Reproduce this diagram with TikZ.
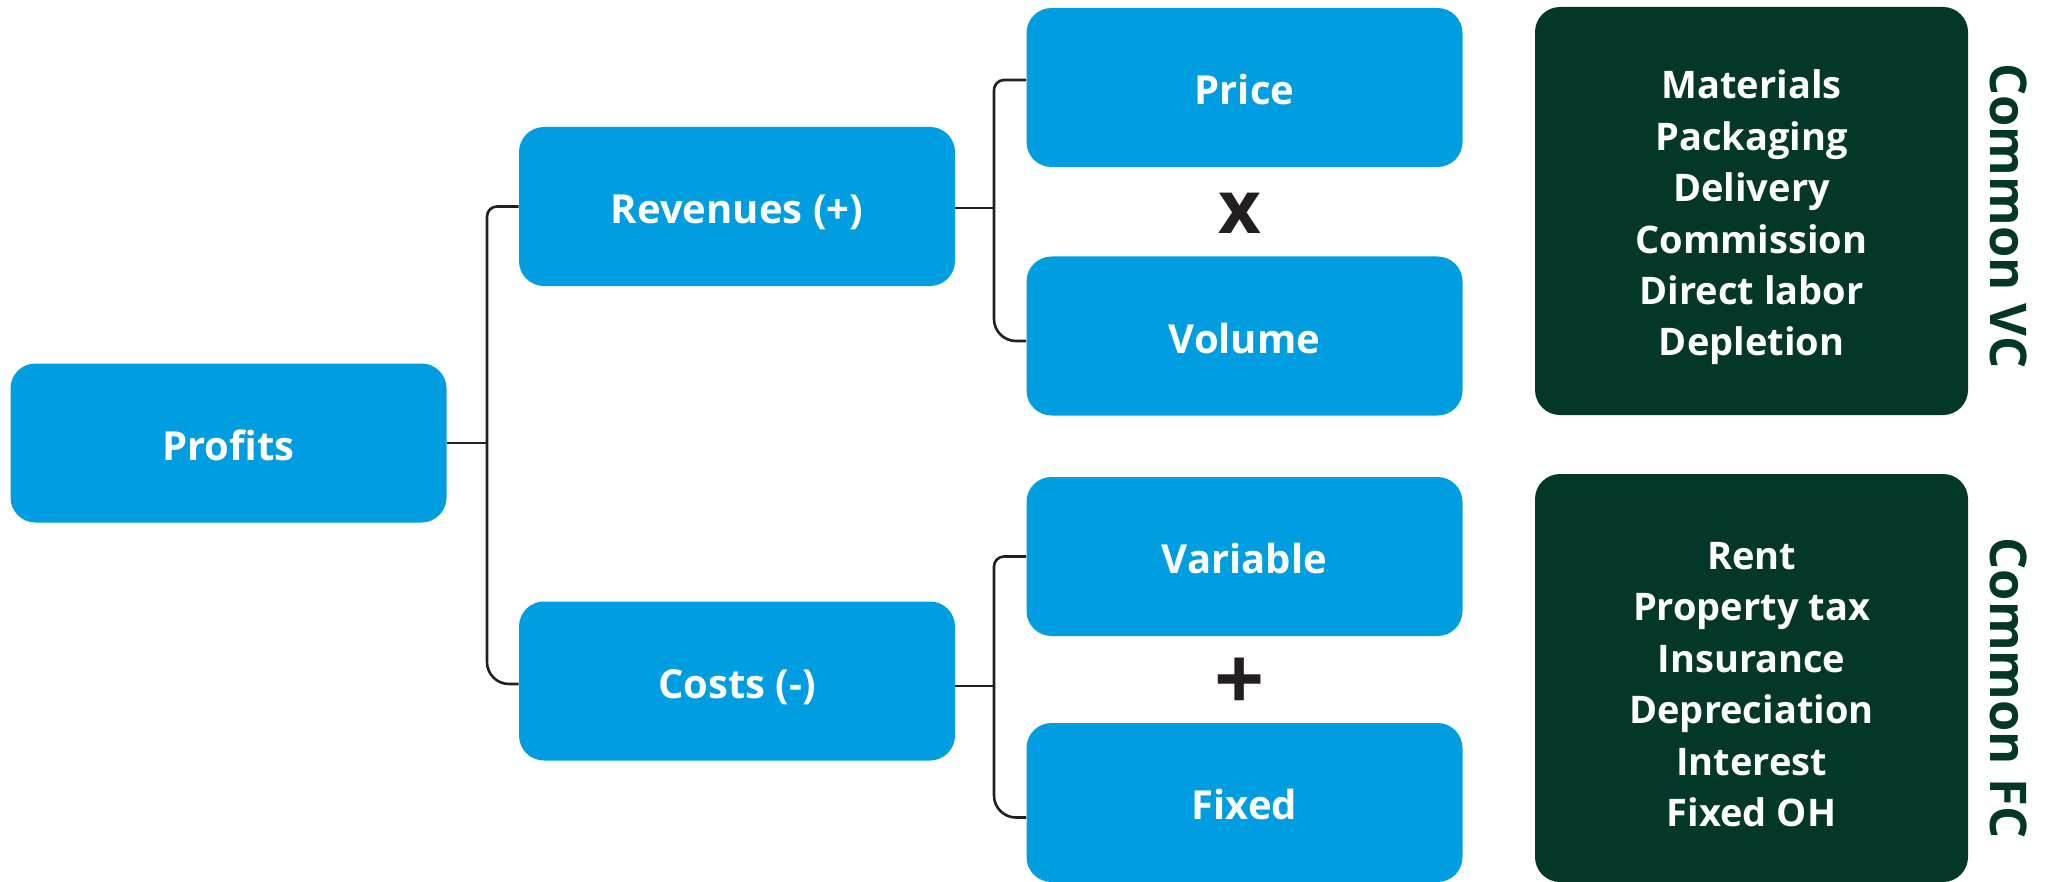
\documentclass[tikz,border=0pt]{standalone}
\usepackage{fontspec}
\setmainfont{Open Sans}
\definecolor{cblue}{RGB}{0,158,224}
\definecolor{cgreen}{RGB}{3,56,40}
\definecolor{cline}{RGB}{35,31,32}
\begin{document}
\begin{tikzpicture}[x=0.5pt,y=-0.5pt,
  bbox/.style={fill=cblue, rounded corners=12.5pt, minimum width=218pt, minimum height=79.5pt, inner sep=0pt, text=white, text height=17.3pt, text depth=0pt, font=\fontsize{20}{24}\selectfont\bfseries},
  gbox/.style={fill=cgreen, rounded corners=12.5pt, minimum width=216.5pt, minimum height=204pt, inner sep=0pt},
  gtext/.style={text=white, align=center, inner sep=0pt, font=\fontsize{19}{25.7}\selectfont\bfseries},
  vlabel/.style={rotate=-90, text=cgreen, inner sep=0pt, font=\fontsize{25.3}{30}\selectfont\bfseries},
  conn/.style={draw=cline, line width=1.3pt},
  opsign/.style={text=cline, inner sep=0pt, font=\fontsize{37}{40}\selectfont\bfseries}
]
\useasboundingbox (0,0) rectangle (2049,882);

% blue boxes
\node[bbox] (profits) at (228.5,443) {Profits};
\node[bbox] (rev) at (737,206.5) {Revenues (+)};
\node[bbox] (costs) at (737,681) {Costs (-)};
\node[bbox] (price) at (1244.5,87.5) {Price};
\node[bbox] (volume) at (1244.5,336) {Volume};
\node[bbox] (variable) at (1244.5,556.5) {Variable};
\node[bbox] (fixed) at (1244.5,802.5) {Fixed};

% operators
\node[opsign] (times) at (1240,213) {x};
\node[opsign, font=\fontsize{44}{48}\selectfont\bfseries] (plus) at (1240,684) {+};

% green boxes
\node[gbox] (vc) at (1751.5,211) {};
\node[gbox] (fc) at (1751.5,678) {};
\node[gtext] (vctext) at ([yshift=-3.3pt]vc.center) {Materials\\Packaging\\Delivery\\Commission\\Direct labor\\Depletion};
\node[gtext] (fctext) at ([yshift=-3.3pt]fc.center) {Rent\\Property tax\\Insurance\\Depreciation\\Interest\\Fixed OH};
\node[vlabel] (vclabel) at (2009,216) {Common VC};
\node[vlabel] (fclabel) at (2009,688) {Common FC};

% connectors
\coordinate (bL) at (487,443);
\coordinate (bR) at (994,208);
\coordinate (bC) at (994,686);
\draw[conn] (profits.east) -- (bL);
\draw[conn, rounded corners=5pt] (bL) |- (rev.west);
\draw[conn, rounded corners=11pt] (bL) |- ([yshift=-1.5pt]costs.west);
\draw[conn] ([yshift=-0.75pt]rev.east) -- (bR);
\draw[conn, rounded corners=5pt] (bR) |- ([yshift=3.75pt]price.west);
\draw[conn, rounded corners=11pt] (bR) |- ([yshift=-2.5pt]volume.west);
\draw[conn] ([yshift=-2.5pt]costs.east) -- (bC);
\draw[conn, rounded corners=5pt] (bC) |- (variable.west);
\draw[conn, rounded corners=11pt] (bC) |- ([yshift=-7.5pt]fixed.west);
\end{tikzpicture}
\end{document}
